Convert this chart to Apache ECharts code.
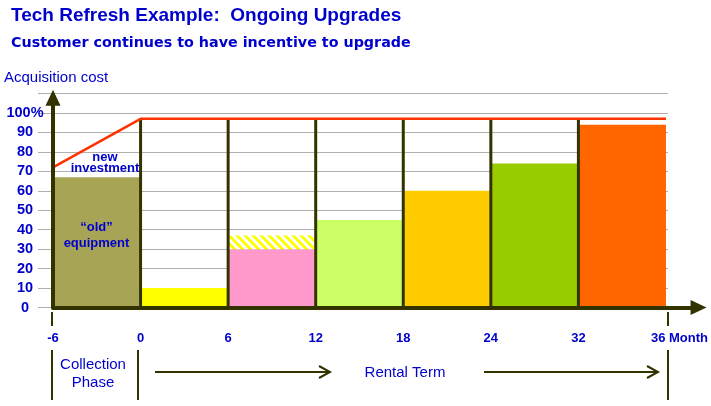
<!DOCTYPE html>
<html><head><meta charset="utf-8">
<script src="https://cdn.jsdelivr.net/npm/echarts@6/dist/echarts.min.js"></script>
<style>html,body{margin:0;padding:0;background:#fff}#c{width:711px;height:406px}</style>
</head><body><div id="c"></div>
<script>
// ---- data ----
const monthTicks = ['-6', '0', '6', '12', '18', '24', '32', '36'];
const barValues = [67, 10, 30, 45, 60, 74, 94];
const barColors = ['#A8A456', '#FFFF00', '#FF99CC', '#CCFF66', '#FFCC00', '#99CC00', '#FF6600'];
const hatchBar = 2, hatchFrom = 30, hatchTo = 37;
const costX = [0, 1, 7];
const costY = [72, 97, 97];
const dividerIdx = [1, 2, 3, 4, 5, 6];
const dividerTop = 97;
const yTickMax = 110;

const BLUE = '#0000CC', AX = '#333300';
const arial = '"Liberation Sans", Arial, sans-serif';

// stripe pattern for hatched segment
const pc = document.createElement('canvas'); pc.width = 8; pc.height = 8;
const g = pc.getContext('2d');
g.fillStyle = '#ffffff'; g.fillRect(0, 0, 8, 8);
g.fillStyle = '#FFFF00';
for (let y = 0; y < 8; y++) for (let x = 0; x < 8; x++) {
  if ((((x - y) % 8) + 8) % 8 < 4) g.fillRect(x, y, 1, 1);
}

const chart = echarts.init(document.getElementById('c'), null, {renderer: 'canvas'});
const isInt = v => Math.abs(v - Math.round(v)) < 1e-6;

chart.setOption({
  animation: false,
  backgroundColor: '#ffffff',
  title: [
    {text: 'Tech Refresh Example:  Ongoing Upgrades', left: 11, top: 6, padding: 0,
     textStyle: {color: BLUE, fontFamily: arial, fontWeight: 'bold', fontSize: 19}},
    {text: 'Customer continues to have incentive to upgrade', left: 11, top: 36, padding: 0,
     textStyle: {color: BLUE, fontFamily: '"DejaVu Sans", Verdana, sans-serif', fontWeight: 'bold', fontSize: 14.3}}
  ],
  grid: [
    {left: 53, right: 10.3, top: 97.7, bottom: 98.5},
    {left: 38, right: 43, top: 93.5, bottom: 98.5}
  ],
  xAxis: [
    {type: 'value', gridIndex: 0, min: 0, max: 7.372, interval: 1, z: 10,
     splitLine: {show: false}, axisTick: {show: false},
     axisLine: {show: true, symbol: ['none', 'triangle'], symbolSize: [15, 16],
                lineStyle: {color: AX, width: 4}},
     axisLabel: {margin: 24, color: BLUE, fontFamily: arial, fontWeight: 'bold', fontSize: 13,
       formatter: v => {
         if (!isInt(v)) return '';
         const i = Math.round(v);
         if (i === monthTicks.length - 1) return '{m|' + monthTicks[i] + ' Month}';
         return monthTicks[i] !== undefined ? monthTicks[i] : '';
       },
       rich: {m: {color: BLUE, fontFamily: arial, fontWeight: 'bold', fontSize: 13, padding: [0, 0, 0, 27]}}
     }},
    {type: 'value', gridIndex: 1, min: 0, max: 1, show: false}
  ],
  yAxis: [
    {type: 'value', gridIndex: 0, min: 0, max: 107.87, z: 10,
     splitLine: {show: false}, axisTick: {show: false}, axisLabel: {show: false},
     axisLine: {show: true, symbol: ['none', 'triangle'], symbolSize: [15, 16],
                lineStyle: {color: AX, width: 4}}},
    {type: 'value', gridIndex: 1, min: 0, max: yTickMax, interval: 10,
     axisLine: {show: false}, axisTick: {show: false},
     splitLine: {show: true, lineStyle: {color: '#B0B0B0', width: 1}},
     axisLabel: {margin: 13, align: 'center', color: BLUE, fontFamily: arial, fontWeight: 'bold', fontSize: 14.5,
       formatter: v => v === yTickMax ? '' : (v === 100 ? '100%' : String(v))}}
  ],
  series: [
    {type: 'custom', xAxisIndex: 0, yAxisIndex: 0, z: 2,
     data: barValues.map((v, i) => [i, v]),
     renderItem: (params, api) => {
       const i = api.value(0), v = api.value(1);
       const p0 = api.coord([i, v]), p1 = api.coord([i + 1, 0]);
       return {type: 'rect', shape: {x: p0[0], y: p0[1], width: p1[0] - p0[0], height: p1[1] - p0[1]},
               style: {fill: barColors[i]}};
     }},
    {type: 'custom', xAxisIndex: 0, yAxisIndex: 0, z: 3,
     data: [[hatchBar, hatchFrom, hatchTo]],
     renderItem: (params, api) => {
       const i = api.value(0);
       const p0 = api.coord([i, api.value(2)]), p1 = api.coord([i + 1, api.value(1)]);
       return {type: 'rect', shape: {x: p0[0], y: p0[1], width: p1[0] - p0[0], height: p1[1] - p0[1]},
               style: {fill: {image: pc, repeat: 'repeat'}}};
     }},
    {type: 'custom', xAxisIndex: 0, yAxisIndex: 0, z: 4,
     data: dividerIdx.map(i => [i, dividerTop]),
     renderItem: (params, api) => {
       const i = api.value(0);
       const p0 = api.coord([i, 0]), p1 = api.coord([i, api.value(1)]);
       return {type: 'line', shape: {x1: p0[0], y1: p0[1], x2: p1[0], y2: p1[1]},
               style: {stroke: AX, lineWidth: 3}};
     }},
    {type: 'line', xAxisIndex: 0, yAxisIndex: 0, z: 5,
     data: costX.map((x, k) => [x, costY[k]]),
     symbol: 'none', lineStyle: {color: '#FF3300', width: 2.5}}
  ],
  graphic: [
    {type: 'text', z: 100, left: 4, top: 70, style: {text: 'Acquisition cost', fill: BLUE, font: '15px ' + arial}},
    {type: 'text', z: 100, x: 105, y: 162.5, style: {text: 'new\ninvestment', fill: BLUE, font: 'bold 13px ' + arial,
      align: 'center', verticalAlign: 'middle', lineHeight: 11}},
    {type: 'text', z: 100, x: 96.5, y: 235, style: {text: '\u201cold\u201d\nequipment', fill: BLUE, font: 'bold 13px ' + arial,
      align: 'center', verticalAlign: 'middle', lineHeight: 16}},
    // end ticks
    {type: 'line', shape: {x1: 52, y1: 312, x2: 52, y2: 326}, style: {stroke: AX, lineWidth: 2}},
    {type: 'line', shape: {x1: 668, y1: 312, x2: 668, y2: 326}, style: {stroke: AX, lineWidth: 2}},
    // phase separators
    {type: 'line', shape: {x1: 52, y1: 350, x2: 52, y2: 400}, style: {stroke: AX, lineWidth: 2}},
    {type: 'line', shape: {x1: 138, y1: 350, x2: 138, y2: 400}, style: {stroke: AX, lineWidth: 2}},
    {type: 'line', shape: {x1: 668, y1: 350, x2: 668, y2: 400}, style: {stroke: AX, lineWidth: 2}},
    {type: 'text', z: 100, x: 93, y: 374, style: {text: 'Collection\nPhase', fill: BLUE, font: '15px ' + arial,
      align: 'center', verticalAlign: 'middle', lineHeight: 18}},
    {type: 'text', z: 100, x: 405, y: 373, style: {text: 'Rental Term', fill: BLUE, font: '15px ' + arial,
      align: 'center', verticalAlign: 'middle'}},
    // arrows
    {type: 'line', shape: {x1: 155, y1: 372, x2: 330, y2: 372}, style: {stroke: AX, lineWidth: 2}},
    {type: 'polyline', shape: {points: [[319, 366], [330, 372], [319, 378]]}, style: {stroke: AX, lineWidth: 2, fill: null}},
    {type: 'line', shape: {x1: 484, y1: 372, x2: 658, y2: 372}, style: {stroke: AX, lineWidth: 2}},
    {type: 'polyline', shape: {points: [[647, 366], [658, 372], [647, 378]]}, style: {stroke: AX, lineWidth: 2, fill: null}}
  ]
});
</script>
</body></html>
